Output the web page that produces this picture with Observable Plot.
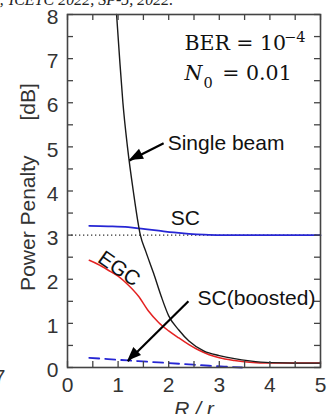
<!DOCTYPE html>
<html>
<head>
<meta charset="utf-8">
<script src="https://cdn.jsdelivr.net/npm/d3@7"></script>
<script src="https://cdn.jsdelivr.net/npm/@observablehq/plot@0.6"></script>
<style>
  html, body { margin: 0; padding: 0; background: #fff; overflow: hidden; }
  #chart svg { display: block; }
</style>
</head>
<body>
<div id="chart"></div>
<script>
// ---- data ----
const singleX = [0.97, 1.03, 1.095, 1.185, 1.30, 1.44, 1.55, 1.70, 1.85, 2.0, 2.2, 2.4, 2.7, 3.0, 3.3, 3.6, 4.0, 4.5, 5.0];
const singleY = [8.0, 7.0, 6.0, 5.0, 4.0, 3.0, 2.62, 2.14, 1.62, 1.17, 0.85, 0.6, 0.37, 0.27, 0.2, 0.15, 0.11, 0.1, 0.1];

const egcX = [0.43, 0.6, 0.8, 1.0, 1.2, 1.4, 1.6, 1.8, 2.0, 2.2, 2.4, 2.6, 2.8, 3.0, 3.3, 3.6, 4.0, 4.5, 5.0];
const egcY = [2.43, 2.34, 2.21, 2.07, 1.87, 1.62, 1.28, 1.02, 0.83, 0.67, 0.52, 0.39, 0.29, 0.22, 0.16, 0.12, 0.1, 0.1, 0.1];

const scX = [0.43, 0.8, 1.2, 1.5, 1.8, 2.1, 2.4, 2.7, 3.0, 4.0, 5.0];
const scY = [3.21, 3.2, 3.18, 3.14, 3.1, 3.06, 3.03, 3.01, 3.0, 3.0, 3.0];

const boostX = [0.43, 0.8, 1.2, 1.6, 2.0, 2.4, 2.8, 3.1, 3.45];
const boostY = [0.22, 0.19, 0.16, 0.13, 0.1, 0.07, 0.04, 0.02, 0.0];

const xTickLabels = [0, 1, 2, 3, 4, 5];
const yTickLabels = [0, 1, 2, 3, 4, 5, 6, 7, 8];
const xMinor = d3.range(0, 5.01, 0.5);
const yMinor = d3.range(0, 8.01, 0.5);
const refLine = [3];

// annotation anchors (data units)
const labels = [
  {text: "Single beam", x: 1.98, y: 5.09},
  {text: "SC", x: 2.04, y: 3.39},
  {text: "SC(boosted)", x: 2.57, y: 1.575}
];
const rotLabels = [{text: "EGC", x: 1.02, y: 2.24, rotate: 35}];
const arrows = [
  {x1: 1.90, y1: 5.08, x2: 1.225, y2: 4.69},
  {x1: 2.39, y1: 1.50, x2: 1.19, y2: 0.14}
];
const serifMain = [
  {text: "BER = 10", x: 2.31, y: 7.35, italic: false},
  {text: "N", x: 2.31, y: 6.67, italic: true},
  {text: "= 0.01", x: 3.06, y: 6.67, italic: false}
];
const serifSmall = [
  {text: "\u22124", x: 4.28, y: 7.48},
  {text: "0", x: 2.69, y: 6.45}
];

const toPts = (xs, ys) => xs.map((x, i) => ({x, y: ys[i]}));

const sans = "'Liberation Sans', Arial, sans-serif";
const serif = "'DejaVu Serif', 'Liberation Serif', serif";

const FH = 414 - 14 - 47; // frame height
const FW = 331 - 67 - 11; // frame width

const chart = Plot.plot({
  width: 331,
  height: 414,
  marginLeft: 67,
  marginRight: 11,
  marginTop: 14,
  marginBottom: 47,
  style: {fontFamily: sans, fontSize: "21px", color: "#333", background: "#fff", overflow: "visible"},
  x: {domain: [0, 5]},
  y: {domain: [0, 8]},
  marks: [
    Plot.ruleY(refLine, {stroke: "#333", strokeWidth: 1.2, strokeDasharray: "1.3,2.7"}),
    Plot.line(toPts(scX, scY), {x: "x", y: "y", stroke: "#2626d4", strokeWidth: 1.8, curve: "monotone-x"}),
    Plot.line(toPts(boostX, boostY), {x: "x", y: "y", stroke: "#2626d4", strokeWidth: 1.8, strokeDasharray: "10,6", curve: "monotone-x"}),
    Plot.line(toPts(egcX, egcY), {x: "x", y: "y", stroke: "#e42222", strokeWidth: 1.5, curve: "monotone-x"}),
    Plot.line(toPts(singleX, singleY), {x: "x", y: "y", stroke: "#1a1a1a", strokeWidth: 1.4, curve: "monotone-x"}),
    // inward ticks on all four sides
    Plot.tickX(xMinor, {x: d => d, insetTop: FH - 6, stroke: "#444", strokeWidth: 1.3}),
    Plot.tickX(xMinor, {x: d => d, insetBottom: FH - 6, stroke: "#444", strokeWidth: 1.3}),
    Plot.tickY(yMinor, {y: d => d, insetRight: FW - 6, stroke: "#444", strokeWidth: 1.3}),
    Plot.tickY(yMinor, {y: d => d, insetLeft: FW - 6, stroke: "#444", strokeWidth: 1.3}),
    Plot.frame({stroke: "#444", strokeWidth: 1.6}),
    Plot.axisX({ticks: xTickLabels, tickFormat: d => String(d), tickSize: 0, tickPadding: 10, label: null, fill: "#333"}),
    Plot.axisY({ticks: yTickLabels, tickFormat: d => String(d), tickSize: 0, tickPadding: 9, dy: 3, label: null, fill: "#333"}),
    // axis titles
    Plot.text(["Power Penalty\u00a0\u00a0\u00a0\u00a0\u00a0\u00a0[dB]"], {frameAnchor: "left", textAnchor: "middle", dx: -39, dy: -4, rotate: -90, fontSize: 21, fill: "#333"}),
    Plot.text(["R / r"], {frameAnchor: "bottom", textAnchor: "middle", dy: 34, lineAnchor: "top", fontStyle: "italic", fontSize: 21, fill: "#333"}),
    // annotations
    Plot.text(labels, {x: "x", y: "y", text: "text", textAnchor: "start", lineAnchor: "middle", fontSize: 21, fill: "#111"}),
    Plot.text(rotLabels, {x: "x", y: "y", text: "text", rotate: "rotate", textAnchor: "middle", lineAnchor: "middle", fontSize: 21, fill: "#111"}),
    Plot.link(arrows, {x1: "x1", y1: "y1", x2: "x2", y2: "y2", stroke: "#000", strokeWidth: 2.2}),
    Plot.text(serifMain.filter(d => !d.italic), {x: "x", y: "y", text: "text", textAnchor: "start", lineAnchor: "middle", fontFamily: serif, fontSize: 20.5, fill: "#111"}),
    Plot.text(serifMain.filter(d => d.italic), {x: "x", y: "y", text: "text", textAnchor: "start", lineAnchor: "middle", fontFamily: serif, fontStyle: "italic", fontSize: 20.5, fill: "#111"}),
    Plot.text(serifSmall, {x: "x", y: "y", text: "text", textAnchor: "start", lineAnchor: "middle", fontFamily: serif, fontSize: 14.5, fill: "#111"}),
    // cropped neighbouring text of the source page
    Plot.text(["; ICETC 2022, SP-5, 2022."], {frameAnchor: "top-left", dx: -68, dy: -10, textAnchor: "start", lineAnchor: "bottom", fontFamily: "'Liberation Serif', serif", fontStyle: "italic", fontSize: 16, fill: "#222"}),
    Plot.text(["7"], {frameAnchor: "bottom-left", dx: -62, dy: 10, textAnchor: "end", lineAnchor: "middle", fontSize: 21, fill: "#333"})
  ]
});

// filled arrowheads, positioned through Plot's own scales
const sx = chart.scale("x"), sy = chart.scale("y");
const svg = d3.select(chart);
const headG = svg.append("g").attr("aria-label", "arrowheads");
for (const a of arrows) {
  const x1 = sx.apply(a.x1), y1 = sy.apply(a.y1);
  const x2 = sx.apply(a.x2), y2 = sy.apply(a.y2);
  const ang = Math.atan2(y2 - y1, x2 - x1);
  const L = 14, W = 5.5;
  const bx = x2 - L * Math.cos(ang), by = y2 - L * Math.sin(ang);
  const px = -Math.sin(ang) * W, py = Math.cos(ang) * W;
  headG.append("path")
    .attr("d", `M${x2},${y2}L${bx + px},${by + py}L${bx - px},${by - py}Z`)
    .attr("fill", "#000");
}

document.getElementById("chart").appendChild(chart);
</script>
</body>
</html>
